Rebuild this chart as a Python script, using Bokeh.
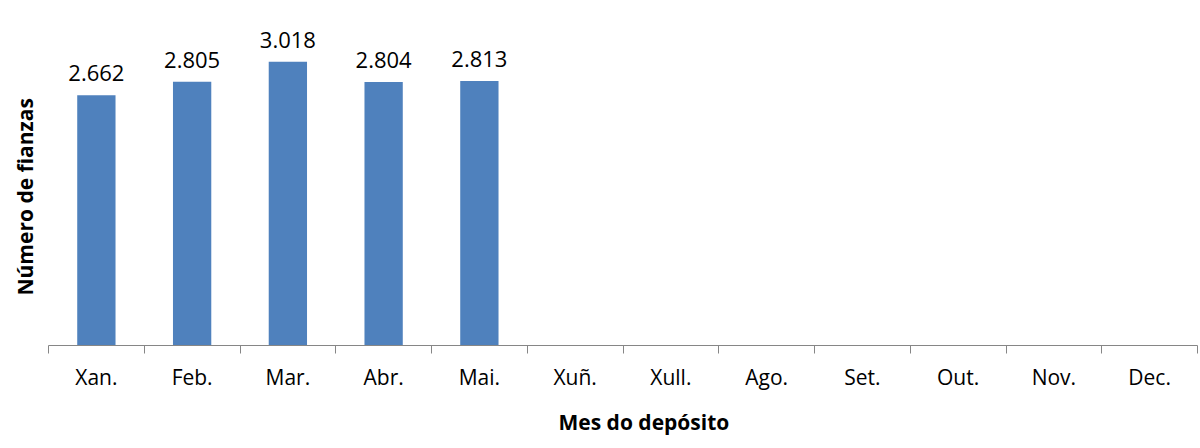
from bokeh.plotting import figure
from bokeh.models import ColumnDataSource, LabelSet, FixedTicker, Range1d, Title
from bokeh.core.properties import value
from bokeh.embed import file_html
from bokeh.resources import INLINE

months = ["Xan.", "Feb.", "Mar.", "Abr.", "Mai.", "Xuñ.", "Xull.", "Ago.", "Set.", "Out.", "Nov.", "Dec."]
values = [2662, 2805, 3018, 2804, 2813]
value_labels = ["2.662", "2.805", "3.018", "2.804", "2.813"]
x_title = "Mes do depósito"
y_title = "Número de fianzas"

FONT = "Open Sans"
BAR = "#4F81BD"

xs = [i + 0.5 for i in range(len(values))]
src = ColumnDataSource(dict(x=xs, top=values, lab=value_labels))

p = figure(width=1198, height=448, output_backend="svg", toolbar_location=None,
           x_range=Range1d(0, len(months)), y_range=Range1d(0, 3500),
           min_border_left=48, min_border_right=1, min_border_top=16, min_border_bottom=102)
p.outline_line_color = None
p.xgrid.visible = False
p.ygrid.visible = False
p.yaxis.visible = False

p.vbar(x="x", top="top", width=0.4, source=src, fill_color=BAR, line_color=None)

p.add_layout(LabelSet(x="x", y="top", text="lab", source=src, text_align="center",
                      text_baseline="bottom", y_offset=14, text_font=value(FONT),
                      text_font_size="22px", text_color="#000000"))

centers = [i + 0.5 for i in range(len(months))]
bounds = list(range(len(months) + 1))
ax = p.xaxis[0]
ax.ticker = FixedTicker(ticks=centers, minor_ticks=bounds)
ax.major_label_overrides = {c: m for c, m in zip(centers, months)}
ax.major_tick_in = 0
ax.major_tick_out = 0
ax.minor_tick_in = 0
ax.minor_tick_out = 8
ax.minor_tick_line_color = "#868686"
ax.axis_line_color = "#868686"
ax.major_label_text_font = FONT
ax.major_label_text_font_size = "21px"
ax.major_label_text_color = "#000000"
ax.major_label_standoff = 9

p.add_layout(Title(text=x_title, align="left", offset=510, vertical_align="bottom",
                   text_font=FONT, text_color="#000000", text_font_size="21px",
                   text_font_style="bold", standoff=25), "below")
p.add_layout(Title(text=y_title, align="left", offset=50, vertical_align="middle",
                   text_font=FONT, text_color="#000000", text_font_size="21px",
                   text_font_style="bold", standoff=18), "left")

open("out.html", "w").write(file_html(p, INLINE))
